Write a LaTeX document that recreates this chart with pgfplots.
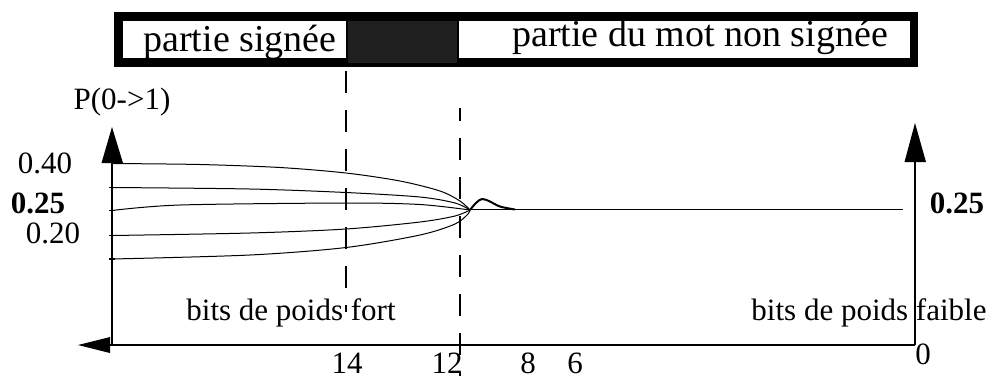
\documentclass[border=0pt]{standalone}
\usepackage{fontspec}
\setmainfont{Liberation Serif}
\usepackage{pgfplots}
\pgfplotsset{compat=1.18}
\begin{document}
\begin{tikzpicture}
\begin{axis}[
  x=0.5pt, y=0.5pt, y dir=reverse,
  xmin=0, xmax=998, ymin=0, ymax=376,
  hide axis, clip=false, scale only axis,
  every axis plot/.append style={black, line width=0.5pt, mark=none},
]
\path (axis cs:0,0) rectangle (axis cs:998,376);
% top bar
\fill[black] (axis cs:114,12) rectangle (axis cs:918,67);
\fill[white] (axis cs:123,21) rectangle (axis cs:346,58);
\fill[white] (axis cs:459,21) rectangle (axis cs:910,58);
\fill[black!88] (axis cs:348,21) rectangle (axis cs:457,63);
\node[font=\fontsize{19}{21}\selectfont, anchor=base, inner sep=0pt] at (axis cs:240,51) {partie signée};
\node[font=\fontsize{19}{21}\selectfont, anchor=base, inner sep=0pt] at (axis cs:700,46) {partie du mot non signée};
% dashed lines
\addplot[line width=1.3pt, dash pattern=on 11pt off 8.5pt] coordinates {(346,71) (346,312)};
\addplot[line width=1.3pt, dash pattern=on 11pt off 8.5pt, dash phase=4.5pt] coordinates {(460,108) (460,376)};
% curves
\addplot[smooth, tension=0.5] coordinates {(112,163.5) (200,164.5) (280,167.5) (346,173) (400,181) (440,191) (460,201) (470,210)};
\addplot[smooth, tension=0.5] coordinates {(112,187.5) (250,189) (346,192.5) (420,197) (455,203) (470,210)};
\addplot[smooth, tension=0.5] coordinates {(112,210.5) (180,205) (346,203) (420,204.5) (470,210)};
\addplot[smooth, tension=0.5] coordinates {(112,235.5) (250,233) (346,229) (420,222) (455,216) (470,210)};
\addplot[smooth, tension=0.5] coordinates {(112,259) (250,255) (346,247.5) (420,235) (455,224) (468,214) (470,210)};
\addplot[smooth, tension=0.6, line width=1pt] coordinates {(470,210) (476,203) (482,199) (490,201.5) (500,206.5) (515,209.5)};
\addplot[line width=0.8pt] coordinates {(470,209.5) (903,209.5)};
% axes
\addplot[line width=1.4pt] coordinates {(112,345) (112,160)};
\addplot[line width=1.4pt] coordinates {(915,345) (915,160)};
\addplot[line width=1.4pt] coordinates {(108,345) (915,345)};
\fill[black] (axis cs:101.5,163) -- (axis cs:123,163) -- (axis cs:112,127) -- cycle;
\fill[black] (axis cs:904.5,162) -- (axis cs:926,162) -- (axis cs:915,123) -- cycle;
\fill[black] (axis cs:110,337) -- (axis cs:110,353) -- (axis cs:78,345) -- cycle;
% left ticks
\addplot[line width=0.8pt] coordinates {(109,187.5) (115,187.5)};
\addplot[line width=0.8pt] coordinates {(109,210.5) (115,210.5)};
\addplot[line width=0.8pt] coordinates {(109,235.5) (115,235.5)};
\addplot[line width=0.8pt] coordinates {(109,259) (115,259)};
% labels
\begin{scope}[every node/.style={font=\fontsize{15.5}{17}\selectfont, inner sep=0pt}]
\node at (axis cs:122,102) {P(0->1)};
\node at (axis cs:45,163) {0.40};
\node[font=\fontsize{15.5}{17}\selectfont\bfseries] at (axis cs:38,203) {0.25};
\node at (axis cs:53,233) {0.20};
\node[font=\fontsize{15.5}{17}\selectfont\bfseries] at (axis cs:957,203) {0.25};
\node at (axis cs:291,313) {bits de poids fort};
\node at (axis cs:869,313) {bits de poids faible};
\node at (axis cs:347,363) {14};
\node at (axis cs:447,363) {12};
\node at (axis cs:528,363) {8};
\node at (axis cs:575,363) {6};
\node at (axis cs:923,354) {0};
\end{scope}
\end{axis}
\end{tikzpicture}
\end{document}
